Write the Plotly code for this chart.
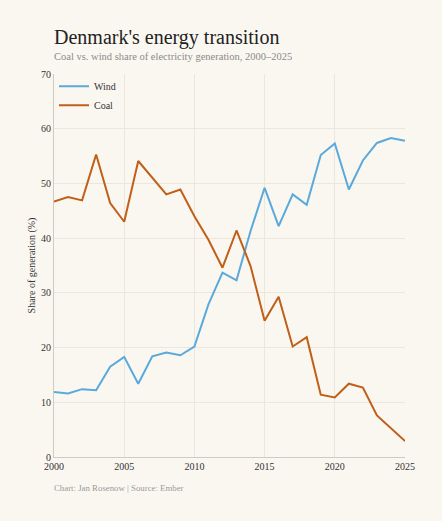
import plotly.graph_objects as go

# Share of electricity generation in Denmark (%)
years = list(range(2000, 2026))
wind = [11.9, 11.6, 12.4, 12.2, 16.5, 18.3, 13.4, 18.4, 19.1, 18.6,
        20.2, 27.9, 33.7, 32.3, 41.3, 49.2, 42.2, 48.0, 46.1, 55.2,
        57.3, 48.9, 54.2, 57.4, 58.3, 57.8]
coal = [46.7, 47.5, 46.9, 55.3, 46.4, 43.0, 54.1, 51.0, 48.0, 48.9,
        44.0, 39.7, 34.6, 41.4, 34.9, 24.9, 29.3, 20.2, 21.9, 11.4,
        10.9, 13.4, 12.7, 7.6, 5.2, 2.9]

x_ticks = [2000, 2005, 2010, 2015, 2020, 2025]
y_ticks = [0, 10, 20, 30, 40, 50, 60, 70]

bg = "#faf7f1"
font = "Liberation Serif, DejaVu Serif, serif"
plot_h = 521 - 74 - 64  # plot area height in px, used to place the text

fig = go.Figure()
fig.add_trace(go.Scatter(x=years, y=wind, name="Wind", mode="lines",
                         line=dict(color="#5aa9dc", width=2)))
fig.add_trace(go.Scatter(x=years, y=coal, name="Coal", mode="lines",
                         line=dict(color="#c05f17", width=2)))

fig.update_layout(
    width=442, height=521,
    paper_bgcolor=bg, plot_bgcolor=bg,
    font=dict(family=font, color="#333333", size=10),
    margin=dict(l=54, r=37, t=74, b=64),
    showlegend=True,
    legend=dict(x=0.0, y=1.006, xanchor="left", yanchor="top",
                bgcolor="rgba(0,0,0,0)", font=dict(size=10, color="#333333"),
                itemwidth=30, tracegroupgap=0),
    annotations=[
        dict(text="Denmark's energy transition",
             xref="paper", yref="paper", x=-0.005, y=1 + 37 / plot_h,
             xanchor="left", yanchor="middle", showarrow=False,
             font=dict(size=20, color="#222222", family=font)),
        dict(text="Coal vs. wind share of electricity generation, 2000\u20132025",
             xref="paper", yref="paper", x=-0.005, y=1 + 18 / plot_h,
             xanchor="left", yanchor="middle", showarrow=False,
             font=dict(size=10.5, color="#8a8a8a", family=font)),
        dict(text="Chart: Jan Rosenow | Source: Ember",
             xref="paper", yref="paper", x=-0.005, y=-31 / plot_h,
             xanchor="left", yanchor="middle", showarrow=False,
             font=dict(size=8.8, color="#9a9a9a", family=font)),
    ],
)

fig.update_xaxes(range=[2000, 2025], tickvals=x_ticks,
                 showgrid=True, gridcolor="#ece7de", gridwidth=1,
                 showline=True, linecolor="#cfcac2", linewidth=1,
                 ticks="", zeroline=False, ticklabelstandoff=0,
                 tickfont=dict(size=10, color="#333333"))
fig.update_yaxes(range=[0, 70], tickvals=y_ticks,
                 title=dict(text="Share of generation (%)",
                            font=dict(size=10, color="#333333"), standoff=3),
                 showgrid=True, gridcolor="#ece7de", gridwidth=1,
                 showline=True, linecolor="#cfcac2", linewidth=1,
                 ticks="", zeroline=False,
                 tickfont=dict(size=10, color="#333333"))

# drop the browser's default 8px body margin so the figure sits at the page corner
fig.write_html("out.html", config={"displayModeBar": False},
               post_script="document.body.style.margin='0';"
                           "document.body.style.background='%s';" % bg)
